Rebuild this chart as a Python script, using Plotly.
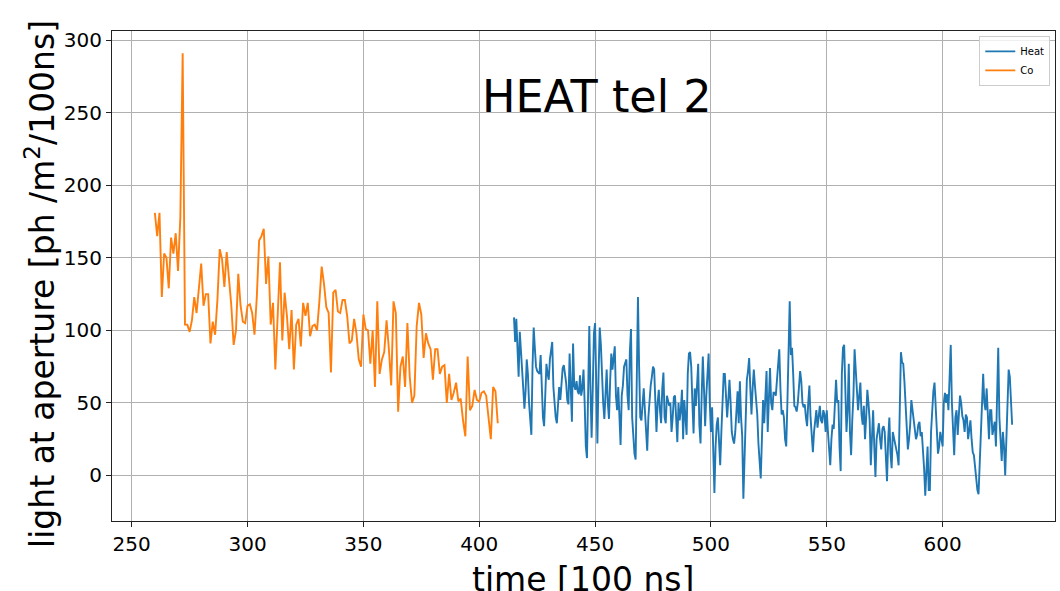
import plotly.graph_objects as go

# ---------------- data ----------------
co_start = 260
co_step = 1.0
co_values = [
    181, 165, 181, 123, 153, 150, 129, 164, 153, 167,
    141, 178, 291, 104, 104, 99, 107, 123, 112, 130,
    146, 117, 125, 125, 91, 106, 97, 121, 156, 149,
    130, 154, 135, 117, 90, 100, 139, 117, 106, 105,
    117, 118, 112, 97, 123, 162, 165, 170, 132, 151,
    104, 119, 73, 114, 147, 93, 126, 110, 87, 114,
    73, 104, 108, 89, 119, 110, 119, 96, 103, 104,
    100, 120, 144, 132, 116, 112, 71, 126, 128, 113,
    112, 121, 121, 110, 91, 93, 108, 98, 80, 75,
    111, 101, 100, 77, 100, 61, 120, 70, 80, 85,
    107, 87, 62, 120, 112, 44, 75, 82, 61, 105,
    68, 50, 55, 103, 119, 111, 81, 98, 91, 87,
    66, 87, 87, 70, 75, 76, 50, 70, 52, 57,
    64, 51, 53, 38, 27, 82, 45, 48, 59, 52,
    51, 57, 58, 55, 38, 25, 61, 58, 36,
]

heat_start = 415
heat_step = 0.5
heat_values = [
    # 415.0 - 482.5
    109, 92, 108, 90, 68, 99, 88, 75, 60, 46,
    58, 80, 70, 50, 35, 28, 75, 102, 88, 75,
    72, 71, 70, 83, 60, 40, 34, 60, 77, 70,
    66, 80, 88, 92, 61, 50, 40, 36, 50, 61,
    52, 66, 74, 76, 70, 64, 52, 49, 84, 55,
    37, 91, 62, 59, 65, 58, 56, 69, 55, 60,
    73, 50, 20, 12, 60, 103, 60, 26, 60, 98,
    105, 50, 22, 70, 102, 90, 61, 50, 39, 55,
    73, 50, 39, 65, 84, 73, 80, 89, 55, 45,
    61, 35, 21, 55, 62, 75, 78, 80, 55, 45,
    85, 101, 40, 22, 15, 11, 80, 123, 75, 40,
    38, 50, 60, 45, 25, 17, 40, 55, 62, 68,
    75, 73, 45, 30, 50, 59, 45, 36, 60, 71,
    40, 36, 55, 52, 48, 50,
    # 483.0 - 555.0
    30, 40, 54, 55, 40, 23, 50, 38, 45, 59,
    25, 52, 40, 28, 70, 84, 85, 75, 50, 29,
    60, 48, 62, 77, 35, 22, 55, 82, 60, 34,
    55, 66, 84, 50, 30, 47, 5, -12, 20, 35,
    40, 20, 7, 30, 50, 70, 70, 55, 40, 52,
    66, 50, 30, 25, 22, 30, 45, 58, 36, 65,
    40, 27, -16, 10, 40, 66, 72, 81, 60, 42,
    60, 73, 62, 50, 42, 22, 10, -2, 25, 52,
    36, 55, 72, 30, 55, 74, 50, 45, 57, 57,
    55, 65, 80, 87, 60, 42, 45, 40, 25, 20,
    50, 95, 120, 83, 88, 70, 48, 47, 44, 50,
    65, 72, 65, 50, 47, 49, 40, 34, 50, 62,
    40, 25, 16, 30, 40, 45, 33, 40, 48, 38,
    36, 45, 42, 30, 45, 30, 18, 7, 25, 35,
    32, 55, 66, 50, 52,
    # 555.5 - 630.0
    20, 3, 70, 88, 90, 60, 30, 45, 77, 30,
    14, 38, 55, 87, 70, 55, 45, 55, 64, 42,
    35, 48, 25, 40, 59, 50, 38, 7, 30, 45,
    20, -1, 25, 32, 36, 25, 18, 32, 34, 30,
    12, -4, 25, 40, 15, 5, 30, 25, 23, 18,
    14, 7, 45, 85, 78, 77, 65, 50, 30, 18,
    25, 35, 52, 45, 36, 28, 25, 28, 35, 37,
    27, 30, 20, 5, -14, 10, 20, -10, -10, 30,
    45, 58, 64, 45, 35, 15, 20, 30, 25, 20,
    50, 57, 50, 56, 45, 75, 90, 50, 25, 14,
    40, 45, 28, 40, 55, 50, 41, 38, 30, 42,
    40, 25, 32, 38, 25, 16, 14, 5, 0, -10,
    -13, 10, 37, 60, 70, 50, 45, 60, 40, 25,
    45, 45, 28, 34, 37, 20, 55, 88, 40, 22,
    10, 30, 20, 0, 25, 55, 73, 68, 50, 35,
]

x_ticks = [250, 300, 350, 400, 450, 500, 550, 600]
y_ticks = [0, 50, 100, 150, 200, 250, 300]

title_text = "HEAT tel 2"
x_label = "time [100 ns]"
y_label = "light at aperture [ph /m<sup>2</sup>/100ns]"

co_x = [co_start + co_step * i for i in range(len(co_values))]
heat_x = [heat_start + heat_step * i for i in range(len(heat_values))]

# ---------------- figure ----------------
W, H = 1060, 591
ml, mr, mt, mb = 112, 5, 31, 70
pw = W - ml - mr
ph = H - mt - mb

FONT = "DejaVu Sans"

fig = go.Figure()
fig.add_trace(go.Scatter(x=heat_x, y=heat_values, mode="lines", name="Heat",
                         line=dict(color="#1f77b4", width=1.9)))
fig.add_trace(go.Scatter(x=co_x, y=co_values, mode="lines", name="Co",
                         line=dict(color="#ff7f0e", width=1.9)))

axis_common = dict(
    showgrid=True, gridcolor="#b0b0b0", gridwidth=1,
    showline=True, linecolor="#222222", linewidth=1, mirror=True,
    ticks="outside", ticklen=5, tickcolor="#222222", tickwidth=1,
    zeroline=False,
    tickfont=dict(family=FONT, size=20, color="black"),
)

fig.update_layout(
    width=W, height=H,
    margin=dict(l=ml, r=mr, t=mt, b=mb, pad=0),
    paper_bgcolor="white", plot_bgcolor="white",
    font=dict(family=FONT, color="black"),
    xaxis=dict(range=[241.5, 648.5], tickvals=x_ticks, **axis_common),
    yaxis=dict(range=[-31.4, 306.4], tickvals=y_ticks, **axis_common),
    legend=dict(x=0.995, y=0.99, xanchor="right", yanchor="top",
                bgcolor="rgba(255,255,255,0.8)", bordercolor="#cccccc",
                borderwidth=1, font=dict(family=FONT, size=10, color="black"),
                tracegroupgap=0),
    showlegend=True,
)

fig.add_annotation(text=title_text, xref="paper", yref="paper",
                   x=(596.5 - ml) / pw, y=(H - mb - 97) / ph,
                   xanchor="center", yanchor="middle", showarrow=False,
                   font=dict(family=FONT, size=44.5, color="black"))
fig.add_annotation(text=y_label, xref="paper", yref="paper",
                   x=(40 - ml) / pw, y=(H - mb - 284) / ph, textangle=-90,
                   xanchor="center", yanchor="middle", showarrow=False,
                   font=dict(family=FONT, size=33, color="black"))
fig.add_annotation(text=x_label, xref="paper", yref="paper",
                   x=(583 - ml) / pw, y=(H - mb - 579) / ph,
                   xanchor="center", yanchor="middle", showarrow=False,
                   font=dict(family=FONT, size=33, color="black"))

fig.write_html("out.html")
